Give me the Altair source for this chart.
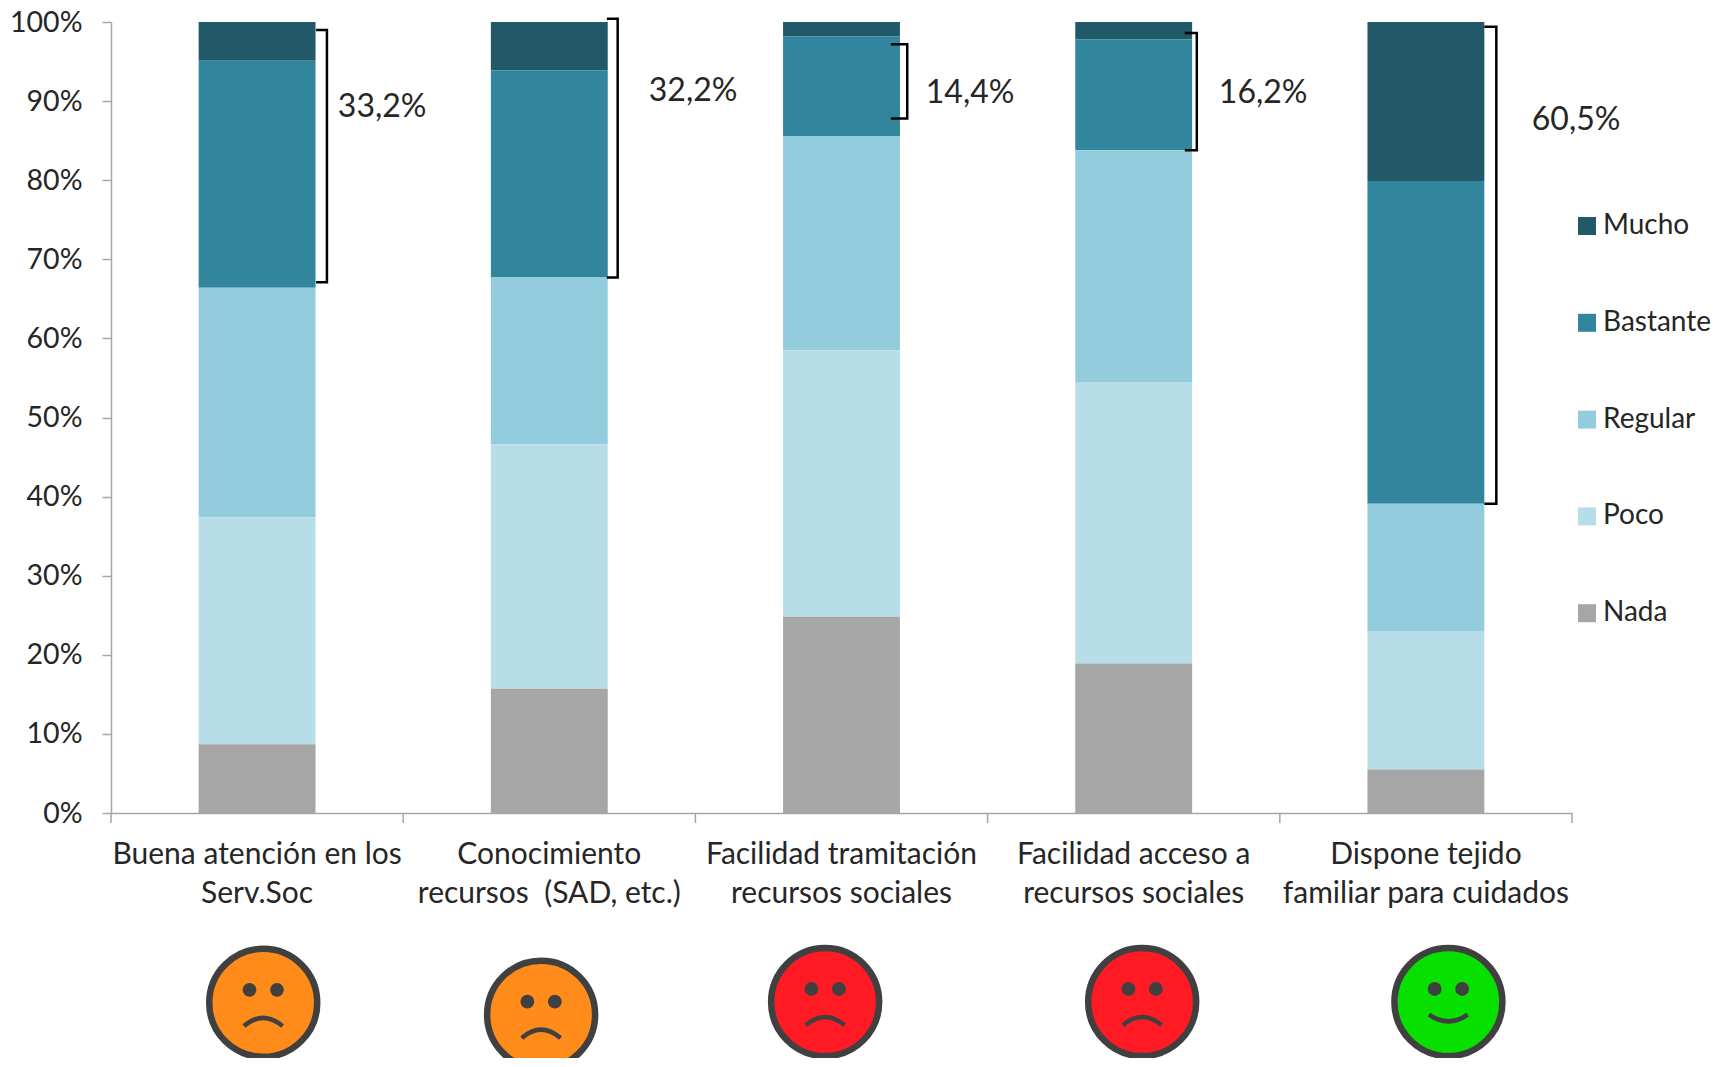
import altair as alt
import pandas as pd

categories = ["Buena atención en los|Serv.Soc", "Conocimiento|recursos \u00a0(SAD, etc.)",
              "Facilidad tramitación|recursos sociales", "Facilidad acceso a|recursos sociales",
              "Dispone tejido|familiar para cuidados"]
levels = ["Mucho", "Bastante", "Regular", "Poco", "Nada"]
colors = ["#215968", "#31859c", "#93cddd", "#b7dee8", "#a6a6a6"]
nada = [8.7, 15.7, 24.8, 18.9, 5.5]
poco = [28.7, 30.9, 33.7, 35.6, 17.5]
regular = [29.0, 21.1, 27.1, 29.3, 16.1]
bastante = [28.7, 26.2, 12.6, 14.0, 40.8]
mucho = [4.9, 6.1, 1.8, 2.2, 20.1]

pct_labels = ["33,2%", "32,2%", "14,4%", "16,2%", "60,5%"]
pct_x = [0.928, 1.992, 2.940, 3.943, 5.014]
pct_y = [89.3, 91.3, 91.0, 91.0, 87.6]

bracket_top = [99.0, 100.4, 97.2, 98.6, 99.4]
bracket_bottom = [67.1, 67.7, 87.8, 83.8, 39.1]
bracket_inner = [0.702, 1.697, 2.669, 3.675, 4.700]
bracket_outer = [0.739, 1.734, 2.725, 3.716, 4.741]

band_edges = [0, 1, 2, 3, 4, 5]
tick_base = [0, 0, 0, 0, 0, 0]
tick_end = [-1.26, -1.26, -1.26, -1.26, -1.26, -1.26]

face_x = [0.521, 1.472, 2.444, 3.529, 4.577]
face_y = [-24.0, -25.5, -23.9, -23.9, -23.9]
face_color = ["#ff8c1a", "#ff8c1a", "#ff1a24", "#ff1a24", "#08e000"]
face_smile = [False, False, False, False, True]

FONT = "Lato"
INK = "#262626"
FACE_INK = "#404040"
GRAY = "#a6a6a6"

rows = []
for name, vals in zip(levels, [mucho, bastante, regular, poco, nada]):
    for c, v in zip(categories, vals):
        rows.append({"cat": c, "level": name, "value": v, "rank": levels[::-1].index(name)})
bars_df = pd.DataFrame(rows)

bars = alt.Chart(bars_df).mark_bar().encode(
    x=alt.X("cat:N", sort=categories, title=None,
            scale=alt.Scale(paddingInner=0.6, paddingOuter=0.3),
            axis=alt.Axis(labelExpr="split(datum.label, '|')", labelAngle=0, labelLimit=0,
                          labelFont=FONT, labelFontSize=30, labelColor=INK, labelLineHeight=39,
                          labelPadding=26, ticks=False, domainColor=GRAY, domainWidth=1.5, grid=False,
                          labelBaseline="top")),
    y=alt.Y("value:Q", stack="zero", title=None,
            scale=alt.Scale(domain=[0, 100], nice=False),
            axis=alt.Axis(values=list(range(0, 101, 10)), labelExpr="datum.value + '%'",
                          labelFont=FONT, labelFontSize=28.5, labelColor=INK, labelPadding=20,
                          tickSize=9, tickColor=GRAY, domainColor=GRAY, domainWidth=1.5,
                          tickWidth=1.5, grid=False)),
    color=alt.Color("level:N", title=None,
                    scale=alt.Scale(domain=levels, range=colors),
                    legend=alt.Legend(orient="none", legendX=1462, legendY=190, symbolType="square",
                                      symbolSize=324, symbolStrokeWidth=0, labelFont=FONT,
                                      labelFontSize=28, labelColor=INK, labelOffset=2,
                                      rowPadding=68.8, padding=0, labelLimit=200)),
    order=alt.Order("rank:Q"),
)

x_q = alt.Scale(domain=[0, 5], nice=False, zero=False)
x_plain = alt.X("px:Q", scale=x_q, axis=None)

tick_df = pd.DataFrame({"px": band_edges, "py": tick_base, "py2": tick_end})
x_ticks = alt.Chart(tick_df).mark_rule(color=GRAY, strokeWidth=1.5).encode(
    x=x_plain, y=alt.Y("py:Q"), y2=alt.Y2("py2:Q"),
)

bracket_rows = []
for i, (t, b, a, o) in enumerate(zip(bracket_top, bracket_bottom, bracket_inner, bracket_outer)):
    for s, (px, py) in enumerate([(a, t), (o, t), (o, b), (a, b)]):
        bracket_rows.append({"id": i, "step": s, "px": px, "py": py})
brackets = alt.Chart(pd.DataFrame(bracket_rows)).mark_line(color="#000000", strokeWidth=2.5).encode(
    x=x_plain,
    y=alt.Y("py:Q"),
    detail="id:N",
    order="step:Q",
)

pct_df = pd.DataFrame({"px": pct_x, "py": pct_y, "t": pct_labels})
pct = alt.Chart(pct_df).mark_text(font=FONT, fontSize=32, color=INK, align="center", baseline="middle").encode(
    x=x_plain,
    y=alt.Y("py:Q"),
    text="t:N",
)

face_df = pd.DataFrame({"px": face_x, "py": face_y, "c": face_color, "smile": face_smile})
heads = alt.Chart(face_df).mark_circle(size=11664, opacity=1, stroke=FACE_INK, strokeWidth=6.5).encode(
    x=x_plain,
    y=alt.Y("py:Q"),
    color=alt.Color("c:N", scale=None, legend=None),
)

eye_rows = []
for x0, y0 in zip(face_x, face_y):
    eye_rows += [{"px": x0 - 0.047, "py": y0 + 1.65}, {"px": x0 + 0.047, "py": y0 + 1.65}]
eyes = alt.Chart(pd.DataFrame(eye_rows)).mark_circle(size=190, opacity=1, color=FACE_INK).encode(
    x=x_plain,
    y=alt.Y("py:Q"),
)

mouth_rows = [{"px": x0, "py": y0 - 2.2, "smile": s} for x0, y0, s in zip(face_x, face_y, face_smile)]
mouth_df = pd.DataFrame(mouth_rows)
frown = alt.Chart(mouth_df[~mouth_df["smile"]]).mark_point(
    shape="M -1 0.3 Q 0 -0.55 1 0.3", size=1500, filled=False, stroke=FACE_INK, strokeWidth=4.5, opacity=1
).encode(x=x_plain, y=alt.Y("py:Q"))
smile = alt.Chart(mouth_df[mouth_df["smile"]]).mark_point(
    shape="M -1 -0.25 Q 0 0.45 1 -0.25", size=1500, filled=False, stroke=FACE_INK, strokeWidth=4.5, opacity=1
).encode(x=x_plain, y=alt.Y("py:Q"))

overlay = alt.layer(x_ticks, brackets, pct, heads, eyes, frown, smile)
chart = alt.layer(bars, overlay).resolve_scale(x="independent", color="independent").properties(
    width=1461, height=791,
    autosize=alt.AutoSizeParams(type="none"),
    padding={"left": 103, "top": 14, "right": 140, "bottom": 245},
    background="#ffffff",
).configure_view(stroke=None)

chart.save("out.html", embed_options={"renderer": "svg", "actions": False})
